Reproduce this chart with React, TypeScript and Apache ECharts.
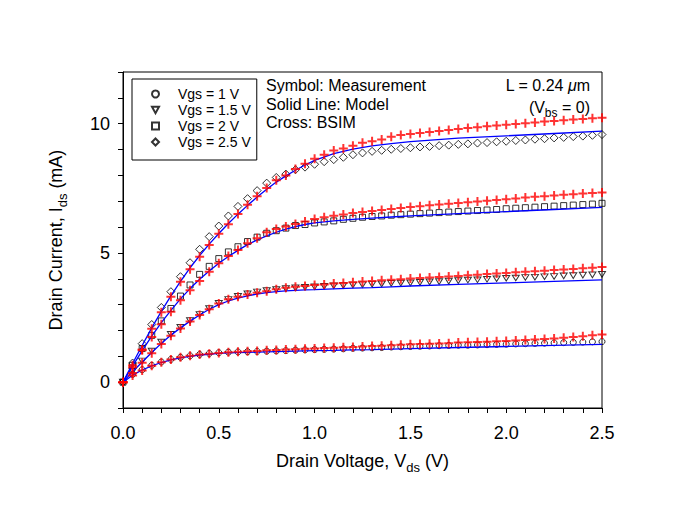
import React, { useEffect, useRef } from "react";
import * as echarts from "echarts";

const FONT = 'Arial, "Liberation Sans", Helvetica, sans-serif';

// Drain voltage grid of the measured / BSIM points (V)
const vds = [
  0, 0.05, 0.1, 0.15, 0.2, 0.25, 0.3, 0.35, 0.4, 0.45, 0.5, 0.55, 0.6, 0.65, 0.7, 0.75, 0.8, 0.85, 0.9, 0.95,
  1.0, 1.05, 1.1, 1.15, 1.2, 1.25, 1.3, 1.35, 1.4, 1.45, 1.5, 1.55, 1.6, 1.65, 1.7, 1.75, 1.8, 1.85, 1.9, 1.95,
  2.0, 2.05, 2.1, 2.15, 2.2, 2.25, 2.3, 2.35, 2.4, 2.45, 2.5,
];

// Measurement (symbols), mA
const meas1 = [
  0, 0.3, 0.48, 0.65, 0.78, 0.88, 0.96, 1.02, 1.07, 1.11, 1.14, 1.16, 1.17, 1.18, 1.19, 1.2, 1.21, 1.22, 1.24, 1.25,
  1.26, 1.27, 1.28, 1.29, 1.31, 1.32, 1.33, 1.34, 1.36, 1.37, 1.38, 1.39, 1.4, 1.41, 1.42, 1.43, 1.43, 1.44, 1.45, 1.46,
  1.47, 1.48, 1.49, 1.5, 1.51, 1.52, 1.53, 1.54, 1.55, 1.56, 1.57,
];
const meas15 = [
  0, 0.42, 0.82, 1.2, 1.55, 1.85, 2.12, 2.38, 2.62, 2.85, 3.05, 3.2, 3.32, 3.42, 3.49, 3.54, 3.58, 3.62, 3.65, 3.67,
  3.69, 3.71, 3.73, 3.74, 3.76, 3.77, 3.79, 3.8, 3.82, 3.83, 3.84, 3.86, 3.88, 3.89, 3.91, 3.93, 3.95, 3.96, 3.98, 4.0,
  4.02, 4.03, 4.05, 4.06, 4.08, 4.09, 4.11, 4.12, 4.14, 4.15, 4.17,
];
const meas2 = [
  0, 0.65, 1.3, 1.81, 2.37, 2.85, 3.33, 3.76, 4.17, 4.48, 4.78, 5.04, 5.24, 5.44, 5.61, 5.76, 5.86, 5.96, 6.06, 6.1,
  6.16, 6.2, 6.24, 6.3, 6.34, 6.38, 6.41, 6.43, 6.46, 6.48, 6.5, 6.52, 6.54, 6.56, 6.58, 6.6, 6.62, 6.64, 6.66, 6.68,
  6.71, 6.73, 6.75, 6.77, 6.79, 6.81, 6.83, 6.85, 6.87, 6.89, 6.92,
];
const meas25 = [
  0, 0.74, 1.49, 2.23, 2.89, 3.5, 4.08, 4.62, 5.14, 5.63, 6.04, 6.43, 6.8, 7.1, 7.41, 7.7, 7.92, 8.05, 8.22, 8.32,
  8.43, 8.53, 8.61, 8.7, 8.8, 8.87, 8.93, 8.97, 9.01, 9.04, 9.07, 9.1, 9.12, 9.15, 9.17, 9.2, 9.22, 9.25, 9.27, 9.3,
  9.32, 9.35, 9.37, 9.4, 9.42, 9.45, 9.47, 9.5, 9.52, 9.55, 9.58,
];

// BSIM (red crosses), mA
const bsim1 = [
  0, 0.26, 0.45, 0.63, 0.77, 0.88, 0.96, 1.02, 1.07, 1.1, 1.13, 1.16, 1.18, 1.2, 1.21, 1.23, 1.24, 1.26, 1.27, 1.29,
  1.3, 1.32, 1.33, 1.35, 1.36, 1.38, 1.4, 1.41, 1.43, 1.45, 1.47, 1.48, 1.49, 1.5, 1.51, 1.53, 1.54, 1.55, 1.56, 1.58,
  1.59, 1.61, 1.63, 1.65, 1.67, 1.69, 1.72, 1.75, 1.78, 1.81, 1.84,
];
const bsim15 = [
  0, 0.35, 0.75, 1.12, 1.48, 1.8, 2.08, 2.35, 2.6, 2.82, 3.04, 3.21, 3.3, 3.39, 3.46, 3.52, 3.59, 3.65, 3.69, 3.72,
  3.76, 3.78, 3.82, 3.84, 3.87, 3.89, 3.91, 3.94, 3.96, 3.98, 4.01, 4.03, 4.05, 4.07, 4.09, 4.11, 4.14, 4.16, 4.18, 4.2,
  4.22, 4.25, 4.27, 4.29, 4.31, 4.34, 4.36, 4.38, 4.41, 4.43, 4.46,
];
const bsim2 = [
  0, 0.58, 1.23, 1.75, 2.24, 2.72, 3.17, 3.56, 3.91, 4.27, 4.6, 4.88, 5.11, 5.37, 5.57, 5.8, 5.93, 6.02, 6.12, 6.22,
  6.31, 6.38, 6.44, 6.49, 6.54, 6.58, 6.62, 6.66, 6.7, 6.74, 6.78, 6.81, 6.84, 6.87, 6.9, 6.93, 6.96, 6.99, 7.02, 7.05,
  7.08, 7.11, 7.14, 7.17, 7.19, 7.22, 7.25, 7.27, 7.3, 7.32, 7.34,
];
const bsim25 = [
  0, 0.65, 1.26, 2.07, 2.7, 3.3, 3.88, 4.37, 4.85, 5.31, 5.74, 6.11, 6.51, 6.86, 7.19, 7.51, 7.81, 8.0, 8.25, 8.45,
  8.64, 8.8, 8.96, 9.04, 9.15, 9.26, 9.32, 9.39, 9.49, 9.56, 9.6, 9.64, 9.68, 9.72, 9.76, 9.79, 9.83, 9.86, 9.9, 9.93,
  9.96, 9.99, 10.02, 10.05, 10.08, 10.1, 10.13, 10.16, 10.18, 10.21, 10.23,
];

// Model (blue solid lines)
const modelV = [
  0, 0.05, 0.1, 0.15, 0.2, 0.25, 0.3, 0.35, 0.4, 0.45, 0.5, 0.55, 0.6, 0.65, 0.7, 0.75, 0.8, 0.85, 0.9, 0.95,
  1.0, 1.1, 1.2, 1.3, 1.4, 1.5, 1.75, 2.0, 2.25, 2.5,
];
const model1 = [
  0, 0.27, 0.47, 0.63, 0.76, 0.86, 0.94, 1.0, 1.05, 1.08, 1.11, 1.13, 1.14, 1.15, 1.16, 1.17, 1.18, 1.19, 1.2, 1.21,
  1.22, 1.23, 1.25, 1.26, 1.28, 1.3, 1.34, 1.38, 1.42, 1.46,
];
const model15 = [
  0, 0.4, 0.78, 1.15, 1.5, 1.82, 2.1, 2.36, 2.6, 2.82, 3.0, 3.14, 3.25, 3.34, 3.41, 3.46, 3.5, 3.53, 3.55, 3.57,
  3.58, 3.61, 3.64, 3.66, 3.69, 3.72, 3.78, 3.84, 3.9, 3.96,
];
const model2 = [
  0, 0.62, 1.22, 1.78, 2.3, 2.78, 3.22, 3.62, 3.98, 4.3, 4.6, 4.86, 5.1, 5.32, 5.5, 5.66, 5.8, 5.92, 6.02, 6.1,
  6.16, 6.24, 6.3, 6.35, 6.39, 6.43, 6.52, 6.6, 6.68, 6.76,
];
const model25 = [
  0, 0.72, 1.42, 2.1, 2.74, 3.34, 3.9, 4.42, 4.9, 5.34, 5.75, 6.14, 6.5, 6.84, 7.16, 7.46, 7.74, 7.98, 8.2, 8.4,
  8.58, 8.84, 9.02, 9.14, 9.23, 9.31, 9.44, 9.53, 9.62, 9.71,
];

const legendNames = ["Vgs = 1 V", "Vgs = 1.5 V", "Vgs = 2 V", "Vgs = 2.5 V"];
const yLabels = [0, 5, 10];

const CROSS = "path://M3.5,0H5.5V3.5H9V5.5H5.5V9H3.5V5.5H0V3.5H3.5Z";
const TRI_DOWN = "path://M0,0L10,0L5,9Z";

function zip(xs: number[], ys: number[]) {
  return xs.map((x, i) => [x, ys[i]]);
}

export default function App() {
  const ref = useRef<HTMLDivElement>(null);
  useEffect(() => {
    document.body.style.margin = "0";
    const chart = echarts.init(ref.current!, null, { renderer: "svg" });

    const measSets = [meas1, meas15, meas2, meas25];
    const bsimSets = [bsim1, bsim15, bsim2, bsim25];
    const modelSets = [model1, model15, model2, model25];
    const symbols = ["circle", TRI_DOWN, "rect", "diamond"];
    const sizes: any[] = [6, [7, 6.3], 6, 8];

    const series: any[] = [];
    measSets.forEach((d, i) => {
      series.push({
        name: legendNames[i],
        type: "scatter",
        data: zip(vds, d),
        symbol: symbols[i],
        symbolSize: sizes[i],
        symbolKeepAspect: true,
        itemStyle: { color: "rgba(255,255,255,0)", borderColor: "#000", borderWidth: 1 },
        z: 2,
      });
    });
    modelSets.forEach((d, i) => {
      series.push({
        name: "Model " + i,
        type: "line",
        data: zip(modelV, d),
        showSymbol: false,
        symbol: "none",
        lineStyle: { color: "#0000ff", width: 1.3 },
        z: 3,
      });
    });
    bsimSets.forEach((d, i) => {
      series.push({
        name: "BSIM " + i,
        type: "scatter",
        data: zip(vds, d),
        symbol: CROSS,
        symbolSize: 9,
        itemStyle: { color: "#ff0000" },
        z: 4,
      });
    });

    chart.setOption({
      animation: false,
      backgroundColor: "#fff",
      grid: {
        left: 123,
        top: 72,
        width: 479,
        height: 336,
        show: true,
        borderColor: "#000",
        borderWidth: 1,
        backgroundColor: "transparent",
      },
      legend: {
        data: legendNames,
        orient: "vertical",
        left: 132,
        top: 79,
        padding: [8, 6, 11, 19],
        borderColor: "#000",
        borderWidth: 1,
        itemWidth: 7,
        itemHeight: 7,
        itemGap: 2,
        symbolKeepAspect: true,
        selectedMode: false,
        textStyle: {
          fontSize: 14,
          fontFamily: FONT,
          color: "#000",
          lineHeight: 13,
          padding: [0, 0, 0, 14],
        },
      },
      xAxis: {
        type: "value",
        min: 0,
        max: 2.5,
        interval: 0.1,
        splitLine: { show: false },
        axisLine: { onZero: false, lineStyle: { color: "#000", width: 1 } },
        axisTick: { length: 5, lineStyle: { color: "#000" } },
        axisLabel: {
          margin: 16,
          fontSize: 18,
          fontFamily: FONT,
          color: "#000",
          formatter: (v: number) =>
            Math.abs(v * 2 - Math.round(v * 2)) < 1e-6 ? v.toFixed(1) : "",
        },
        name: "{a|Drain Voltage, V}{s|ds}{a| (V)}",
        nameLocation: "middle",
        nameGap: 40,
        nameTextStyle: {
          rich: {
            a: { fontSize: 18, fontFamily: FONT, color: "#000", lineHeight: 26 },
            s: { fontSize: 13, fontFamily: FONT, color: "#000", lineHeight: 13, verticalAlign: "bottom" },
          },
        },
      },
      yAxis: {
        type: "value",
        min: -1,
        max: 12,
        interval: 1,
        splitLine: { show: false },
        axisLine: { lineStyle: { color: "#000", width: 1 } },
        axisTick: { length: 5, lineStyle: { color: "#000" } },
        axisLabel: {
          margin: 13,
          fontSize: 18,
          fontFamily: FONT,
          color: "#000",
          formatter: (v: number) =>
            yLabels.includes(Math.round(v)) && Math.abs(v - Math.round(v)) < 1e-6 ? String(Math.round(v)) : "",
        },
        name: "{a|Drain Current, I}{s|ds}{a| (mA)}",
        nameLocation: "middle",
        nameGap: 54,
        nameTextStyle: {
          rich: {
            a: { fontSize: 18, fontFamily: FONT, color: "#000", lineHeight: 26 },
            s: { fontSize: 13, fontFamily: FONT, color: "#000", lineHeight: 13, verticalAlign: "bottom" },
          },
        },
      },
      graphic: [
        { type: "text", x: 266, y: 85, style: { text: "Symbol: Measurement", fontSize: 16, fontFamily: FONT, fill: "#000", verticalAlign: "middle" } },
        { type: "text", x: 266, y: 104, style: { text: "Solid Line: Model", fontSize: 16, fontFamily: FONT, fill: "#000", verticalAlign: "middle" } },
        { type: "text", x: 266, y: 122, style: { text: "Cross: BSIM", fontSize: 16, fontFamily: FONT, fill: "#000", verticalAlign: "middle" } },
        {
          type: "text",
          x: 590,
          y: 85,
          style: {
            text: "{a|L = 0.24 }{i|\u03bc}{a|m}",
            align: "right",
            verticalAlign: "middle",
            rich: {
              a: { fontSize: 16, fontFamily: FONT, fill: "#000" },
              i: { fontSize: 16, fontFamily: FONT, fill: "#000", fontStyle: "italic" },
            },
          },
        },
        {
          type: "text",
          x: 590,
          y: 107,
          style: {
            text: "{a|(V}{s|bs}{a| = 0)}",
            align: "right",
            verticalAlign: "middle",
            rich: {
              a: { fontSize: 16, fontFamily: FONT, fill: "#000", lineHeight: 24 },
              s: { fontSize: 12, fontFamily: FONT, fill: "#000", lineHeight: 12, verticalAlign: "bottom" },
            },
          },
        },
      ],
      series,
    });
    return () => chart.dispose();
  }, []);
  return <div ref={ref} style={{ width: 674, height: 528 }} />;
}
